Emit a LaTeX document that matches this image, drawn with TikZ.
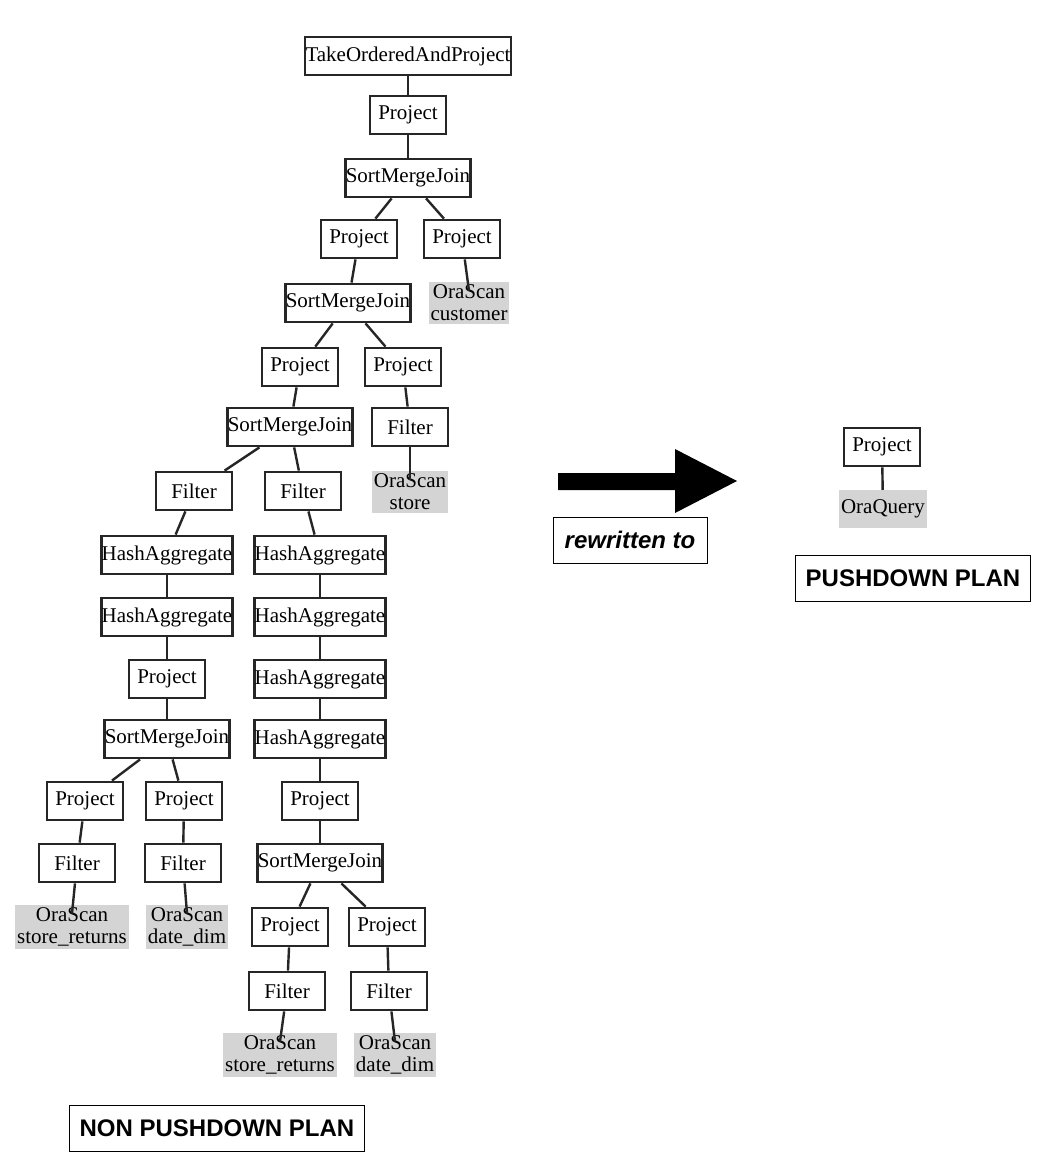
\documentclass[tikz,border=0pt]{standalone}
\usepackage{fontspec}
\setmainfont{Liberation Serif}
\newfontfamily\tagsans{Liberation Sans}
\tikzset{
  op/.style={draw=black!85,line width=2.8pt,fill=white,minimum width=76pt,minimum height=38pt,inner xsep=0.5pt,font=\fontsize{21}{22}\selectfont},
  scan/.style={fill=black!17,align=center,inner xsep=2pt,inner ysep=3pt,font=\fontsize{21}{22}\selectfont},
  tag/.style={draw,line width=1pt,minimum height=46pt,font=\tagsans\bfseries\fontsize{24}{28}\selectfont},
  link/.style={line width=2.4pt,draw=black!85}
}
\begin{document}
\begin{tikzpicture}[x=1pt,y=-1pt]
\useasboundingbox (0,0) rectangle (1044,1160);
\node[op] (top) at (408,56) {TakeOrderedAndProject};
\node[op] (p1) at (408,115) {Project};
\node[op] (j1) at (408,178) {SortMergeJoin};
\node[op] (p2) at (359,239) {Project};
\node[op] (p3) at (462,239) {Project};
\node[scan] (s1) at (469,303) {OraScan\\customer};
\node[op] (j2) at (348,303) {SortMergeJoin};
\node[op] (p4) at (300,367) {Project};
\node[op] (p5) at (403,367) {Project};
\node[op] (j3) at (290,427) {SortMergeJoin};
\node[op] (f1) at (410,427) {Filter};
\node[scan] (s2) at (410,492) {OraScan\\store};
% left branch
\node[op] (f2) at (194,491) {Filter};
\node[op] (h1) at (167,555) {HashAggregate};
\node[op] (h2) at (167,617) {HashAggregate};
\node[op] (p6) at (167,679) {Project};
\node[op] (j4) at (167,739) {SortMergeJoin};
\node[op] (p7) at (85,801) {Project};
\node[op] (p8) at (184,801) {Project};
\node[op] (f4) at (77,863) {Filter};
\node[op] (f5) at (183,863) {Filter};
\node[scan] (s3) at (72,927) {OraScan\\store\_returns};
\node[scan] (s4) at (187,927) {OraScan\\date\_dim};
% right branch
\node[op] (f3) at (303,491) {Filter};
\node[op] (h3) at (320,555) {HashAggregate};
\node[op] (h4) at (320,617) {HashAggregate};
\node[op] (h5) at (320,679) {HashAggregate};
\node[op] (h6) at (320,739) {HashAggregate};
\node[op] (p9) at (320,801) {Project};
\node[op] (j5) at (320,863) {SortMergeJoin};
\node[op] (p10) at (290,927) {Project};
\node[op] (p11) at (387,927) {Project};
\node[op] (f6) at (287,991) {Filter};
\node[op] (f7) at (389,991) {Filter};
\node[scan] (s5) at (280,1055) {OraScan\\store\_returns};
\node[scan] (s6) at (395,1055) {OraScan\\date\_dim};
% pushdown side
\node[op] (pr) at (882,447) {Project};
\node[scan,minimum height=38pt] (oq) at (883,509) {OraQuery};
\foreach \a/\b in {top/p1,p1/j1,j1/p2,j1/p3,p2/j2,j2/p4,j2/p5,p4/j3,p5/f1,j3/f2,j3/f3,
    f2/h1,h1/h2,h2/p6,p6/j4,j4/p7,j4/p8,p7/f4,p8/f5,
    f3/h3,h3/h4,h4/h5,h5/h6,h6/p9,p9/j5,j5/p10,j5/p11,p10/f6,p11/f7,pr/oq}
    \draw[link] (\a) -- (\b);
\foreach \a/\b in {p3/s1,f1/s2,f4/s3,f5/s4,f6/s5,f7/s6}
    \draw[link] (\a) -- ([yshift=-9pt]\b.north);
\fill (558,473) -- (675,473) -- (675,449) -- (737,481) -- (675,513) -- (675,490) -- (558,490) -- cycle;
\node[tag,minimum width=154pt,font=\tagsans\bfseries\itshape\fontsize{24}{28}\selectfont] (rw) at (630,540) {rewritten to};
\node[tag,minimum width=235pt] (pp) at (913,578) {PUSHDOWN PLAN};
\node[tag,minimum width=295pt] (np) at (217,1128) {NON PUSHDOWN PLAN};
\end{tikzpicture}
\end{document}
